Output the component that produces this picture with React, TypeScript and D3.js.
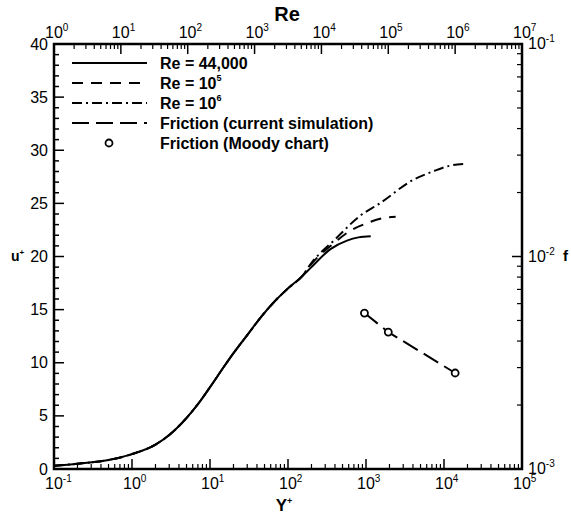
import React from "react";
import * as d3 from "d3";

// near-wall part shared by all three profiles
const yPlusWall = [0.1, 0.2, 0.5, 1, 2, 3, 5, 7, 10, 15, 20, 30, 45, 70, 100, 150];
const uPlusWall = [0.3, 0.5, 0.85, 1.4, 2.3, 3.2, 4.8, 6.1, 7.7, 9.6, 10.9, 12.6, 14.3, 15.9, 17.0, 18.1];

// outer parts
const yPlus44k = [200, 350, 570, 800, 1150];
const uPlus44k = [19.0, 20.7, 21.5, 21.8, 21.9];
const yPlus1e5 = [200, 380, 620, 1000, 1600, 2400];
const uPlus1e5 = [19.3, 21.2, 22.4, 23.1, 23.6, 23.75];
const yPlus1e6 = [200, 400, 830, 1500, 4000, 7200, 12000, 18000];
const uPlus1e6 = [19.4, 21.6, 23.8, 25.0, 27.2, 28.0, 28.55, 28.7];

// friction factor vs Re
const reSim = [44000, 100000, 1000000];
const fSim = [0.00542, 0.00441, 0.00283];
const reMoody = [44000, 100000, 1000000];
const fMoody = [0.00542, 0.00441, 0.00283];

const uTicks = [0, 5, 10, 15, 20, 25, 30, 35, 40];
const yPlusDecades = [-1, 0, 1, 2, 3, 4, 5];
const reDecades = [0, 1, 2, 3, 4, 5, 6, 7];
const fDecades = [-3, -2, -1];

const legendNames = ["Re = 44,000", "Re = 10", "Re = 10", "Friction (current simulation)", "Friction (Moody chart)"];
const legendSups = ["", "5", "6", "", ""];

const FONT = "'Liberation Sans', Arial, sans-serif";

const left = 54, right = 522, top = 44, bottom = 469;

const x = d3.scaleLog().domain([0.1, 1e5]).range([left, right]);
const y = d3.scaleLinear().domain([0, 40]).range([bottom, top]);
const xRe = d3.scaleLog().domain([1, 1e7]).range([left, right]);
const yF = d3.scaleLog().domain([1e-3, 1e-1]).range([bottom, top]);

const profile = (ys: number[], us: number[]) => {
  const pts = ys.map((v, i) => [x(v), y(us[i])] as [number, number]);
  return d3.line().curve(d3.curveMonotoneX)(pts) || "";
};

const join = (a: number[], b: number[]) => a.concat(b);

const minors = (decs: number[]) => {
  const out: number[] = [];
  for (let i = 0; i < decs.length - 1; i++)
    for (let k = 2; k <= 9; k++) out.push(k * Math.pow(10, decs[i]));
  return out;
};

const Pow = ({ px, py, exp, anchor = "middle" }: any) => {
  const off = anchor === "middle" ? -9 : 0;
  return (
    <text x={px + off} y={py} fontSize={16} fontFamily={FONT} fill="#000">
      10<tspan dy={-7} fontSize={10}>{exp}</tspan>
    </text>
  );
};

const dashes = ["none", "11,8", "10,4,2,4", "17,7"];

export default function App() {
  const friction = d3.line()(reSim.map((r, i) => [xRe(r), yF(fSim[i])] as [number, number])) || "";
  return (
    <svg width={571} height={518} style={{ position: "absolute", left: 0, top: 0, display: "block" }}>
      <rect width={571} height={518} fill="#fff" />
      {/* curves */}
      <path d={profile(join(yPlusWall, yPlus44k), join(uPlusWall, uPlus44k))} fill="none" stroke="#000" strokeWidth={2} />
      <path d={profile(join(yPlusWall, yPlus1e5), join(uPlusWall, uPlus1e5))} fill="none" stroke="#000" strokeWidth={2} strokeDasharray={dashes[1]} />
      <path d={profile(join(yPlusWall, yPlus1e6), join(uPlusWall, uPlus1e6))} fill="none" stroke="#000" strokeWidth={2} strokeDasharray={dashes[2]} />
      <path d={friction} fill="none" stroke="#000" strokeWidth={2} strokeDasharray={dashes[3]} />
      {reMoody.map((r, i) => (
        <circle key={i} cx={xRe(r)} cy={yF(fMoody[i])} r={3.5} fill="#fff" stroke="#000" strokeWidth={1.8} />
      ))}

      {/* left axis */}
      {d3.range(0, 41).map((v) => (
        <line key={"ul" + v} x1={left} x2={left + (v % 5 === 0 ? 10 : 5)} y1={y(v)} y2={y(v)} stroke="#000" strokeWidth={1.5} />
      ))}
      {uTicks.map((v) => (
        <text key={"ut" + v} x={48} y={y(v)} dy="0.35em" textAnchor="end" fontSize={16} fontFamily={FONT}>{v}</text>
      ))}

      {/* bottom axis */}
      {yPlusDecades.map((d) => (
        <line key={"bM" + d} x1={x(Math.pow(10, d))} x2={x(Math.pow(10, d))} y1={bottom} y2={bottom - 10} stroke="#000" strokeWidth={1.5} />
      ))}
      {minors(yPlusDecades).map((v, i) => (
        <line key={"bm" + i} x1={x(v)} x2={x(v)} y1={bottom} y2={bottom - 5} stroke="#000" strokeWidth={1.2} />
      ))}
      {yPlusDecades.map((d) => (
        <Pow key={"bl" + d} px={x(Math.pow(10, d))} py={489} exp={d} />
      ))}

      {/* top axis */}
      {reDecades.map((d) => (
        <line key={"tM" + d} x1={xRe(Math.pow(10, d))} x2={xRe(Math.pow(10, d))} y1={top} y2={top + 10} stroke="#000" strokeWidth={1.5} />
      ))}
      {minors(reDecades).map((v, i) => (
        <line key={"tm" + i} x1={xRe(v)} x2={xRe(v)} y1={top} y2={top + 5} stroke="#000" strokeWidth={1.2} />
      ))}
      {reDecades.map((d) => (
        <Pow key={"tl" + d} px={xRe(Math.pow(10, d))} py={38} exp={d} />
      ))}

      {/* right axis */}
      {fDecades.map((d) => (
        <line key={"rM" + d} x1={right} x2={right - 10} y1={yF(Math.pow(10, d))} y2={yF(Math.pow(10, d))} stroke="#000" strokeWidth={1.5} />
      ))}
      {minors(fDecades).map((v, i) => (
        <line key={"rm" + i} x1={right} x2={right - 5} y1={yF(v)} y2={yF(v)} stroke="#000" strokeWidth={1.2} />
      ))}
      {fDecades.map((d) => (
        <Pow key={"rl" + d} px={528} py={yF(Math.pow(10, d)) + 5} exp={d} anchor="start" />
      ))}

      {/* frame */}
      <rect x={left} y={top} width={right - left} height={bottom - top} fill="none" stroke="#000" strokeWidth={2.5} />

      {/* titles */}
      <text x={287} y={21} textAnchor="middle" fontSize={20} fontWeight="bold" fontFamily={FONT}>Re</text>
      <text x={284} y={511} textAnchor="middle" fontSize={17} fontWeight="bold" fontFamily={FONT}>
        Y<tspan dy={-7} fontSize={9}>+</tspan>
      </text>
      <text x={11} y={261} fontSize={14} fontWeight="bold" fontFamily={FONT}>
        u<tspan dy={-6} fontSize={8}>+</tspan>
      </text>
      <text x={563} y={261} fontSize={15} fontWeight="bold" fontFamily={FONT}>f</text>

      {/* legend */}
      {legendNames.map((name, i) => {
        const ly = 63 + i * 20;
        return (
          <g key={"lg" + i}>
            {i < 4 ? (
              <line x1={72} x2={147} y1={ly} y2={ly} stroke="#000" strokeWidth={2} strokeDasharray={dashes[i]} />
            ) : (
              <circle cx={109} cy={ly} r={3.5} fill="#fff" stroke="#000" strokeWidth={1.8} />
            )}
            <text x={160} y={ly} dy="0.35em" fontSize={16} fontWeight="bold" fontFamily={FONT}>
              {name}
              {legendSups[i] && <tspan dy={-8} fontSize={9}>{legendSups[i]}</tspan>}
            </text>
          </g>
        );
      })}
    </svg>
  );
}
